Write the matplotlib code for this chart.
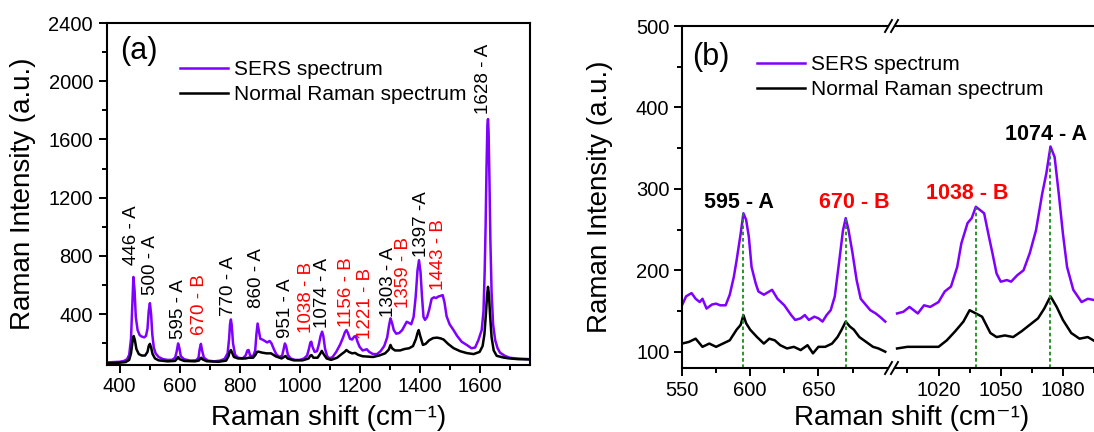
import matplotlib
matplotlib.use("Agg")
import matplotlib.pyplot as plt
from matplotlib.lines import Line2D
from matplotlib.ticker import MultipleLocator, FixedLocator

plt.rcParams['font.family'] = ['Liberation Sans', 'DejaVu Sans']

PURPLE = '#7F00FF'
RED = '#FF0000'

# ---- panel (a): full spectra ----
a_x = [360, 380, 400, 415, 425, 432, 438, 442, 446, 450, 454, 460, 467, 474, 482, 488, 493, 497, 501, 505,
       509, 514, 520, 530, 545, 560, 575, 585, 590, 595, 599, 604, 615, 635, 655, 663, 667, 671, 675, 681,
       695, 715, 735, 750, 760, 765, 768, 771, 774, 778, 785, 795, 810, 820, 826, 830, 835, 845, 852, 856,
       860, 864, 869, 876, 884, 892, 900, 906, 914, 922, 932, 942, 947, 951, 955, 961, 970, 985, 1000, 1015,
       1025, 1031, 1036, 1039, 1043, 1050, 1058, 1064, 1070, 1075, 1079, 1085, 1092, 1100, 1110, 1122, 1135,
       1145, 1151, 1156, 1161, 1168, 1175, 1182, 1187, 1193, 1200, 1210, 1218, 1224, 1232, 1245, 1258, 1270,
       1282, 1292, 1298, 1303, 1308, 1314, 1322, 1332, 1342, 1350, 1357, 1364, 1372, 1380, 1387, 1393, 1398,
       1403, 1408, 1413, 1418, 1425, 1432, 1440, 1448, 1455, 1462, 1470, 1477, 1483, 1490, 1500, 1513, 1525,
       1540, 1557, 1573, 1585, 1596, 1607, 1613, 1617, 1620, 1623, 1626, 1628, 1630, 1633, 1636, 1640, 1645,
       1652, 1660, 1668, 1684, 1700, 1720, 1745, 1768]
a_sers = [68, 70, 72, 78, 90, 120, 230, 450, 655, 560, 380, 290, 255, 245, 240, 250, 300, 420, 475, 400,
          260, 170, 130, 105, 90, 85, 85, 100, 140, 198, 170, 110, 90, 80, 82, 100, 160, 195, 150, 100,
          80, 75, 80, 92, 130, 230, 330, 363, 320, 200, 120, 100, 95, 115, 150, 153, 115, 110, 150, 260,
          335, 290, 230, 225, 215, 205, 215, 200, 160, 125, 105, 115, 160, 198, 180, 120, 95, 85, 85, 95,
          115, 160, 205, 210, 175, 140, 145, 190, 250, 279, 250, 160, 110, 95, 105, 140, 190,
          240, 275, 290, 270, 230, 225, 245, 249, 210, 175, 150, 155, 158, 140, 125, 125, 145,
          180, 240, 320, 370, 340, 290, 265, 270, 290, 320, 347, 340, 330, 380, 520, 700, 770,
          690, 520, 380, 360, 380, 430, 505, 515, 510, 520, 525, 530, 480, 385, 330, 290, 250,
          210, 188, 165, 170, 221, 290, 420, 700, 1000, 1400, 1700, 1740, 1650, 1300, 900, 550, 330,
          220, 165, 135, 113, 100, 95, 92, 90]

a_nx = [360, 380, 400, 420, 432, 438, 443, 447, 451, 456, 464, 474, 485, 493, 497, 501, 505, 510, 518, 530,
        560, 585, 591, 595, 600, 615, 650, 664, 669, 672, 677, 690, 730, 755, 763, 767, 771, 775, 781, 795,
        820, 830, 845, 853, 858, 862, 875, 890, 905, 920, 940, 948, 953, 960, 980, 1010, 1030, 1036, 1040,
        1046, 1060, 1068, 1074, 1080, 1090, 1105, 1125, 1140, 1150, 1156, 1164, 1175, 1185, 1195, 1210, 1225,
        1245, 1265, 1285, 1297, 1303, 1308, 1318, 1335, 1350, 1365, 1378, 1388, 1393, 1397, 1402, 1411, 1420,
        1432, 1445, 1458, 1470, 1480, 1495, 1513, 1535, 1557, 1580, 1600, 1610, 1616, 1621, 1625, 1628, 1631,
        1635, 1640, 1647, 1657, 1680, 1700, 1730, 1768]
a_normal = [62, 64, 66, 70, 85, 130, 210, 249, 220, 160, 125, 115, 115, 140, 180, 195, 170, 125, 95, 82,
            75, 78, 92, 105, 90, 78, 75, 80, 95, 100, 88, 76, 72, 80, 110, 140, 153, 135, 105, 95,
            95, 100, 100, 120, 140, 142, 135, 130, 130, 110, 95, 105, 112, 95, 82, 82, 95, 115, 118,
            100, 100, 125, 147, 125, 95, 85, 100, 125, 140, 153, 140, 130, 133, 120, 110, 108,
            105, 115, 130, 155, 188, 165, 150, 150, 160, 165, 180, 230, 270, 290, 250, 188, 195,
            220, 235, 238, 233, 225, 195, 166, 145, 132, 125, 140, 180, 260, 400, 530, 587, 540,
            390, 240, 150, 113, 101, 95, 90, 88]

a_lbl_x = [441, 504, 596, 668, 763, 857, 952, 1024, 1077, 1155, 1218, 1296, 1348, 1407, 1463, 1613]
a_lbl_y = [736, 530, 226, 256, 386, 439, 233, 268, 302, 313, 226, 382, 439, 793, 564, 1774]
a_lbl_txt = ['446 - A', '500 - A', '595 - A', '670 - B', '770 - A', '860 - A', '951 - A', '1038 - B',
             '1074 - A', '1156 - B', '1221 - B', '1303 - A', '1359 - B', '1397 -A', '1443 - B', '1628 - A']

# ---- panel (b): zoomed spectra with axis break ----
bl_x = [550, 553, 557, 560, 563, 565, 568, 572, 575, 578, 582, 585, 588, 590, 593, 595, 597, 599, 601, 604,
        606, 610, 614, 616, 620, 625, 630, 633, 637, 640, 643, 647, 650, 653, 656, 659, 662, 665, 668, 670,
        672, 675, 678, 681, 685, 688, 692, 695, 699]
bl_sers = [157, 168, 172, 165, 161, 165, 153, 158, 159, 157, 157, 170, 192, 212, 245, 270, 262, 241, 204, 184,
           174, 170, 174, 176, 165, 157, 145, 139, 141, 145, 139, 143, 141, 137, 145, 151, 168, 208, 249, 264,
           250, 221, 188, 165, 157, 151, 147, 143, 137]
bl_nx = [550, 555, 560, 565, 570, 575, 580, 585, 590, 593, 595, 597, 600, 605, 610, 614, 618, 622, 627, 632,
         637, 642, 646, 650, 655, 660, 664, 667, 670, 673, 676, 680, 685, 690, 694, 699]
bl_normal = [110, 112, 116, 106, 110, 106, 110, 114, 127, 133, 145, 135, 127, 118, 110, 116, 114, 108, 104, 106,
             102, 108, 98, 106, 106, 110, 118, 127, 137, 131, 127, 118, 112, 106, 104, 100]

br_x = [1000, 1003, 1006, 1010, 1013, 1016, 1020, 1023, 1026, 1029, 1031, 1034, 1036, 1038, 1040, 1042, 1044,
        1046, 1048, 1050, 1053, 1055, 1058, 1061, 1064, 1067, 1070, 1072, 1074, 1076, 1078, 1080, 1082, 1085,
        1089, 1092, 1096]
br_sers = [147, 149, 155, 147, 157, 155, 161, 174, 180, 204, 233, 258, 264, 278, 274, 270, 245,
           221, 196, 186, 188, 186, 194, 200, 221, 249, 294, 319, 352, 339, 294, 245, 204, 176,
           161, 165, 163]
br_nx = [1000, 1005, 1010, 1015, 1020, 1024, 1028, 1032, 1035, 1038, 1041, 1045, 1048, 1052, 1056, 1060, 1064,
         1068, 1071, 1074, 1077, 1080, 1084, 1088, 1092, 1096]
br_normal = [104, 106, 106, 106, 106, 114, 125, 137, 151, 147, 143, 123, 118, 120, 118, 125, 133,
             141, 153, 168, 155, 139, 123, 116, 118, 112]

b_peak_x = [595, 670, 1038, 1074]
b_peak_top = [270, 264, 278, 352]
b_lbl_x = [592, 676, 1034, 1072]
b_lbl_y = [276, 276, 287, 360]
b_lbl_txt = ['595 - A', '670 - B', '1038 - B', '1074 - A']

W, H = 1094, 432
fig = plt.figure(figsize=(W / 100, H / 100), dpi=100)
XLABEL = 'Raman shift (cm\u207b\u00b9)'


def style_axes(ax):
    for sp in ax.spines.values():
        sp.set_linewidth(1.5)
    ax.tick_params(which='both', direction='out', width=1.4, labelsize=14.5, top=False, right=False)
    ax.tick_params(which='major', length=6, pad=3)
    ax.tick_params(which='minor', length=3.5)


leg_kw = dict(frameon=False, fontsize=15, handlelength=2.3, handletextpad=0.3, labelspacing=0.3,
              borderpad=0, borderaxespad=0)

# panel (a)
ax = fig.add_axes([107 / W, 1 - 365 / H, 423 / W, 342 / H])
ax.plot(a_x, a_sers, color=PURPLE, lw=1.8, label='SERS spectrum')
ax.plot(a_nx, a_normal, color='black', lw=1.8, label='Normal Raman spectrum')
ax.set_xlim(358, 1768)
ax.set_ylim(50, 2400)
ax.xaxis.set_major_locator(MultipleLocator(200))
ax.xaxis.set_minor_locator(MultipleLocator(100))
ax.yaxis.set_major_locator(MultipleLocator(400))
ax.yaxis.set_minor_locator(MultipleLocator(200))
style_axes(ax)
ax.tick_params(axis='y', which='major', pad=4)
for x, y, t in zip(a_lbl_x, a_lbl_y, a_lbl_txt):
    c = RED if t.endswith('B') else 'black'
    ax.text(x, y, t, rotation=90, ha='center', va='bottom', fontsize=13.5, color=c)
ax.text(120 / W, 1 - 36 / H, '(a)', transform=fig.transFigure, fontsize=22, va='top', ha='left')
ax.legend(loc='upper left', bbox_to_anchor=(180 / W, 1 - 60 / H), bbox_transform=fig.transFigure, **leg_kw)
ax.set_ylabel('Raman Intensity (a.u.)', fontsize=20)
ax.yaxis.set_label_coords(-0.168, 0.5)
fig.text(329 / W, 1 - 425 / H, XLABEL, fontsize=20, ha='center', va='baseline')

# panel (b), left part
b1 = fig.add_axes([682 / W, 1 - 368 / H, 206 / W, 342 / H])
b1.plot(bl_x, bl_sers, color=PURPLE, lw=1.8)
b1.plot(bl_nx, bl_normal, color='black', lw=1.8)
b1.set_xlim(550, 701)
b1.set_ylim(80, 500)
b1.xaxis.set_major_locator(FixedLocator([550, 600, 650]))
b1.xaxis.set_minor_locator(FixedLocator([575, 625, 675]))
b1.yaxis.set_major_locator(MultipleLocator(100))
b1.yaxis.set_minor_locator(MultipleLocator(50))
b1.spines['right'].set_visible(False)
style_axes(b1)

# panel (b), right part
b2 = fig.add_axes([895 / W, 1 - 368 / H, 246.7 / W, 342 / H])
b2.patch.set_visible(False)
b2.plot(br_x, br_sers, color=PURPLE, lw=1.8, label='SERS spectrum')
b2.plot(br_nx, br_normal, color='black', lw=1.8, label='Normal Raman spectrum')
b2.set_xlim(999, 1118)
b2.set_ylim(80, 500)
b2.xaxis.set_major_locator(FixedLocator([1020, 1050, 1080]))
b2.xaxis.set_minor_locator(FixedLocator([1005, 1035, 1065, 1095]))
b2.spines['left'].set_visible(False)
b2.spines['right'].set_visible(False)
style_axes(b2)
b2.tick_params(axis='y', which='both', left=False, labelleft=False)

for px, pt, lx, ly, t in zip(b_peak_x, b_peak_top, b_lbl_x, b_lbl_y, b_lbl_txt):
    axb = b1 if px < 800 else b2
    axb.vlines(px, 80, pt, colors='#1a8c1a', linestyles=(0, (2, 1.5)), lw=1.3)
    c = RED if t.endswith('B') else 'black'
    axb.text(lx, ly, t, ha='center', va='baseline', fontsize=15.5, fontweight='bold', color=c)

b1.text(692 / W, 1 - 42 / H, '(b)', transform=fig.transFigure, fontsize=22, va='top', ha='left')
b2.legend(loc='upper left', bbox_to_anchor=(757 / W, 1 - 55 / H), bbox_transform=fig.transFigure, **leg_kw)
b1.set_ylabel('Raman Intensity (a.u.)', fontsize=20)
b1.yaxis.set_label_coords(-0.335, 0.5)
fig.text(912 / W, 1 - 425 / H, XLABEL, fontsize=20, ha='center', va='baseline')

# axis-break marks
for yb in (26, 368):
    for x0 in (885, 891):
        fig.add_artist(Line2D([x0 / W, (x0 + 7) / W], [1 - (yb + 6) / H, 1 - (yb - 6) / H],
                              transform=fig.transFigure, color='black', lw=1.4))

fig.savefig('out.png', dpi=100)
